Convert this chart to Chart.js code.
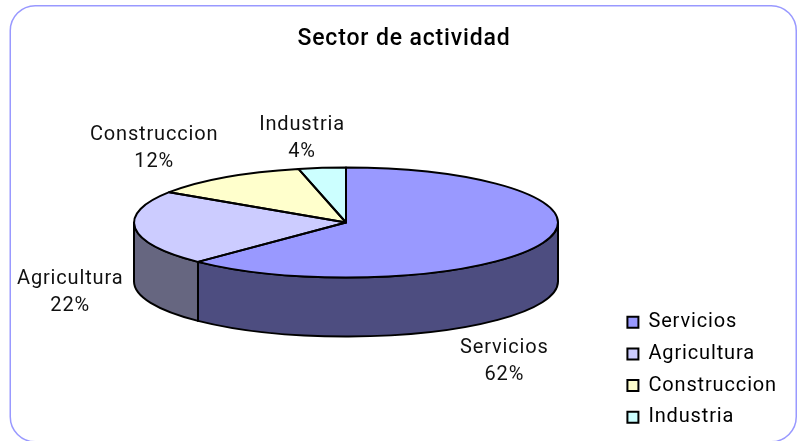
<!DOCTYPE html>
<html><head><meta charset="utf-8">
<style>html,body{margin:0;padding:0;background:#fff}canvas{display:block}</style>
<script src="https://cdn.jsdelivr.net/npm/chart.js@4"></script>
</head><body>
<canvas id="c" width="805" height="441"></canvas>
<script>
const titleText = 'Sector de actividad';
const categories = ['Servicios', 'Agricultura', 'Construccion', 'Industria'];
const shares = [62.3, 22.0, 12.1, 3.6];
const topColors = ['#9999ff', '#ccccff', '#ffffcc', '#ccffff'];
const sideColors = ['#4d4d80', '#666680', '#808066', '#668080'];
const labelOffsets = [[-38, 118], [-65, 64], [-71, -29], [-20, -29]];
const FONT = 'Roboto, sans-serif';
const TRACKING = '0.85px';
const disc = {cx: 346, cy: 222.5, rx: 212, ry: 55, depth: 59};

const pie3d = {
  id: 'pie3d',
  beforeLayout(chart) { chart.ctx.letterSpacing = TRACKING; },
  beforeDraw(chart) {
    const c = chart.ctx;
    c.letterSpacing = TRACKING;
    c.save();
    c.fillStyle = '#fff';
    c.fillRect(0, 0, chart.width, chart.height);
    c.strokeStyle = '#9999ff';
    c.lineWidth = 1.5;
    c.beginPath();
    c.roundRect(10.25, 5.75, 786, 436, 25);
    c.stroke();
    c.restore();
  },
  beforeDatasetsDraw(chart) {
    const c = chart.ctx, arcs = chart.getDatasetMeta(0).data;
    c.save();
    c.lineWidth = 2;
    c.strokeStyle = '#000';
    c.lineJoin = 'round';
    arcs.forEach((arc, i) => {
      const a = Math.max(arc.startAngle, 0), b = Math.min(arc.endAngle, Math.PI);
      if (b <= a) return;
      c.beginPath();
      c.ellipse(disc.cx, disc.cy, disc.rx, disc.ry, 0, a, b);
      c.ellipse(disc.cx, disc.cy + disc.depth, disc.rx, disc.ry, 0, b, a, true);
      c.closePath();
      c.fillStyle = sideColors[i];
      c.fill();
      c.stroke();
    });
    c.restore();
  },
  beforeDatasetDraw(chart) {
    const c = chart.ctx, arc = chart.getDatasetMeta(0).data[0];
    const r = arc.outerRadius;
    c.save();
    c.translate(disc.cx, disc.cy);
    c.scale(disc.rx / r, disc.ry / r);
    c.translate(-arc.x, -arc.y);
  },
  afterDatasetDraw(chart) {
    chart.ctx.restore();
  },
  afterDatasetsDraw(chart) {
    const c = chart.ctx, arcs = chart.getDatasetMeta(0).data;
    c.save();
    c.lineWidth = 2;
    c.strokeStyle = '#000';
    c.lineJoin = 'round';
    arcs.forEach(arc => {
      c.beginPath();
      c.moveTo(disc.cx, disc.cy);
      c.ellipse(disc.cx, disc.cy, disc.rx, disc.ry, 0, arc.startAngle, arc.endAngle);
      c.closePath();
      c.stroke();
    });
    c.fillStyle = '#111';
    c.font = '20px ' + FONT;
    c.textAlign = 'center';
    c.textBaseline = 'middle';
    arcs.forEach((arc, i) => {
      const m = (arc.startAngle + arc.endAngle) / 2;
      const x = disc.cx + disc.rx * Math.cos(m) + labelOffsets[i][0];
      const y = disc.cy + disc.ry * Math.sin(m) + labelOffsets[i][1];
      c.fillText(categories[i], x, y - 13.5);
      c.fillText(Math.round(shares[i]) + '%', x, y + 13.5);
    });
    c.restore();
  }
};

new Chart(document.getElementById('c'), {
  type: 'pie',
  data: {
    labels: categories,
    datasets: [{data: shares, backgroundColor: topColors, borderWidth: 0}]
  },
  plugins: [pie3d],
  options: {
    responsive: false,
    animation: false,
    plugins: {
      tooltip: {enabled: false},
      title: {
        display: true,
        text: titleText,
        color: '#000',
        font: {family: FONT, size: 23, weight: '500'},
        padding: {top: 25, bottom: 10}
      },
      legend: {
        position: 'right',
        align: 'end',
        labels: {
          color: '#111',
          font: {family: FONT, size: 20},
          boxWidth: 11,
          boxHeight: 11,
          padding: 11.7,
          generateLabels(chart) {
            return categories.map((t, i) => ({
              text: t, fillStyle: topColors[i], strokeStyle: '#000', lineWidth: 2, index: i
            }));
          }
        }
      }
    },
    layout: {padding: {left: 21, right: 18, bottom: 2}}
  }
});
</script>
</body></html>
